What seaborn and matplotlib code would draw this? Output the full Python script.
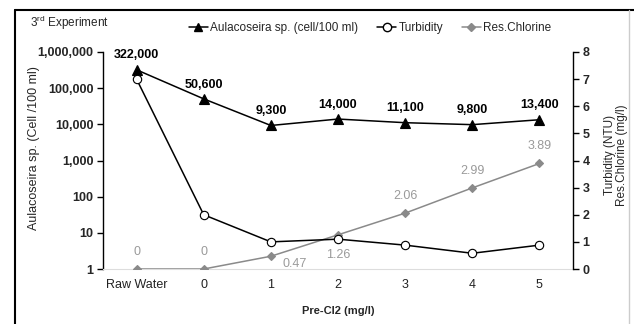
import matplotlib
matplotlib.use("Agg")
import matplotlib.pyplot as plt
import seaborn as sns
import pandas as pd
from matplotlib.lines import Line2D

categories = ["Raw Water", "0", "1", "2", "3", "4", "5"]
aulacoseira = [322000, 50600, 9300, 14000, 11100, 9800, 13400]
turbidity = [7.0, 2.0, 1.0, 1.1, 0.88, 0.58, 0.88]
res_chlorine = [0, 0, 0.47, 1.26, 2.06, 2.99, 3.89]
chlorine_labels = ["0", "0", "0.47", "1.26", "2.06", "2.99", "3.89"]
left_ticks = [1, 10, 100, 1000, 10000, 100000, 1000000]
left_ticklabels = ["1", "10", "100", "1,000", "10,000", "100,000", "1,000,000"]
right_ticks = [0, 1, 2, 3, 4, 5, 6, 7, 8]

sns.set_theme(style="white")
plt.rcParams["font.family"] = ["Liberation Sans", "DejaVu Sans"]
plt.rcParams["mathtext.default"] = "regular"

df = pd.DataFrame({"cat": categories, "aula": aulacoseira,
                   "turb": turbidity, "cl": res_chlorine})

fig = plt.figure(figsize=(6.34, 3.24), dpi=100)
ax = fig.add_axes([103/634, 1-269/324, (573-103)/634, (269-52)/324])
ax2 = ax.twinx()

gray = "#8a8a8a"

sns.pointplot(data=df, x="cat", y="aula", order=categories, ax=ax, color="black",
              marker="^", markersize=6.5, linewidth=1.1, errorbar=None,
              markerfacecolor="black", markeredgecolor="black", zorder=5)
sns.pointplot(data=df, x="cat", y="cl", order=categories, ax=ax2, color=gray,
              marker="D", markersize=4.5, linewidth=1.1, errorbar=None,
              markerfacecolor=gray, markeredgecolor=gray, zorder=3)
sns.pointplot(data=df, x="cat", y="turb", order=categories, ax=ax2, color="black",
              marker="o", markersize=6, linewidth=1.1, errorbar=None,
              markerfacecolor="white", markeredgecolor="black", zorder=4)

ax.set_yscale("log")
ax.set_ylim(1, 1e6)
ax.set_xlim(-0.5, 6.5)
ax2.set_ylim(0, 8)
ax.set_yticks(left_ticks)
ax.set_yticklabels(left_ticklabels, fontsize=9, fontweight="bold")
ax.yaxis.set_minor_locator(matplotlib.ticker.NullLocator())
ax2.set_yticks(right_ticks)
ax2.set_yticklabels([str(t) for t in right_ticks], fontsize=9, fontweight="bold")
ax.set_xticks(range(len(categories)))
ax.set_xticklabels(categories, fontsize=9, color="#222222")

for a in (ax, ax2):
    for s in ("top", "bottom", "left", "right"):
        a.spines[s].set_visible(False)
ax.spines["left"].set_visible(True)
ax.spines["left"].set_color("black")
ax.spines["left"].set_linewidth(1.0)
ax.spines["bottom"].set_visible(True)
ax.spines["bottom"].set_color("#dddddd")
ax.spines["bottom"].set_linewidth(0.8)
ax2.spines["right"].set_visible(True)
ax2.spines["right"].set_color("black")
ax2.spines["right"].set_linewidth(1.0)

ax.tick_params(axis="y", which="major", direction="out", length=4, width=1,
               color="black", left=True, pad=3)
ax.tick_params(axis="x", length=0, pad=7)
ax2.tick_params(axis="y", direction="out", length=4, width=1, color="black",
                right=True, pad=3)

ax.set_xlabel("Pre-Cl2 (mg/l)", fontsize=8, fontweight="bold", labelpad=11)
ax.set_ylabel("Aulacoseira sp. (Cell /100 ml)", fontsize=9)
ax.yaxis.set_label_coords((40-103)/470, (269-148)/217)
ax2.set_ylabel("Turbidity (NTU)\nRes.Chlorine (mg/l)", fontsize=8.5,
               linespacing=1.05)
ax2.yaxis.set_label_coords((604-103)/470, (269-155)/217)
ax2.set_xlabel("")

# Aulacoseira labels
for i, v in enumerate(aulacoseira):
    ax.annotate(f"{v:,}", (i, v), xytext=(0, 6), textcoords="offset points",
                ha="center", va="bottom", fontsize=9, fontweight="bold", color="black")

# Chlorine labels
offsets = [(0, 8), (0, 8), (17, -1), (0, -10), (0, 8), (0, 8), (0, 8)]
for i, (v, lab) in enumerate(zip(res_chlorine, chlorine_labels)):
    dx, dy = offsets[i]
    ax2.annotate(lab, (i, v), xytext=(dx, dy), textcoords="offset points",
                 ha="center", va="bottom" if dy > 0 else "top",
                 fontsize=9, color="#9a9a9a")

# Legend
handles = [
    Line2D([], [], color="black", marker="^", markersize=6, linewidth=1.1,
           markerfacecolor="black"),
    Line2D([], [], color="black", marker="o", markersize=6, linewidth=1.1,
           markerfacecolor="white"),
    Line2D([], [], color=gray, marker="D", markersize=4, linewidth=1.1,
           markerfacecolor=gray),
]
labels = ["Aulacoseira sp. (cell/100 ml)", "Turbidity", "Res.Chlorine"]
fig.legend(handles, labels, loc="center", bbox_to_anchor=(370/634, 1-28/324),
           ncol=3, frameon=False, fontsize=8.5, handlelength=1.6,
           handletextpad=0.2, columnspacing=1.6)

fig.text(30/634, 1-23/324, "3$^{rd}$ Experiment", fontsize=8.5, ha="left", va="center")

# figure border
fig.add_artist(Line2D([15/634, 15/634], [0, 1-10/324], transform=fig.transFigure,
                      color="black", linewidth=1.5))
fig.add_artist(Line2D([15/634, 1.0], [1-10/324, 1-10/324], transform=fig.transFigure,
                      color="black", linewidth=1.5))
fig.add_artist(Line2D([629/634, 629/634], [0, 1-10/324], transform=fig.transFigure,
                      color="#cccccc", linewidth=1.0))

fig.savefig("out.png", dpi=100)
